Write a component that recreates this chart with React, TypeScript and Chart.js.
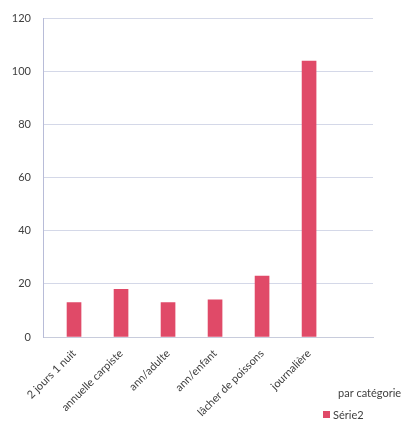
import React, { useEffect, useRef } from "react";
import { Chart, registerables } from "chart.js";

Chart.register(...registerables);

const categories = [
  "2 jours 1 nuit",
  "annuelle carpiste",
  "ann/adulte",
  "ann/enfant",
  "lâcher de poissons",
  "journalière",
];
const values = [13, 18, 13, 14, 23, 104];
const yMin = 0;
const yMax = 120;
const yStep = 20;
const seriesLabel = "Série2";
const legendTitle = "par catégorie";

const BAR_COLOR = "#e04a68";
const TEXT_COLOR = "#404040";
const FONT = "Lato";

const legendPlugin = {
  id: "customLegend",
  afterDraw(chart: any) {
    const ctx = chart.ctx;
    ctx.save();
    ctx.font = `11px ${FONT}`;
    ctx.fillStyle = TEXT_COLOR;
    ctx.textAlign = "left";
    ctx.textBaseline = "middle";
    ctx.fillText(legendTitle, 338, 393);
    ctx.fillStyle = chart.data.datasets[0].backgroundColor;
    ctx.fillRect(323, 411, 7, 7);
    ctx.fillStyle = TEXT_COLOR;
    ctx.fillText(chart.data.datasets[0].label, 333, 415);
    ctx.restore();
  },
};

export default function App() {
  const ref = useRef<HTMLCanvasElement>(null);
  useEffect(() => {
    if (!ref.current) return;
    const chart = new Chart(ref.current, {
      type: "bar",
      data: {
        datasets: [
          {
            label: seriesLabel,
            data: values.map((v, i) => ({ x: i, y: v })),
            backgroundColor: BAR_COLOR,
            barThickness: 14,
          },
        ],
      },
      options: {
        responsive: false,
        animation: false,
        layout: { padding: { top: 12, right: 28, left: 0, bottom: 0 } },
        plugins: { legend: { display: false }, tooltip: { enabled: false } },
        scales: {
          x: {
            type: "linear",
            offset: false,
            min: -0.66,
            max: 6.36,
            afterBuildTicks(scale: any) {
              scale.ticks = categories.map((_, i) => ({ value: i }));
            },
            afterFit(scale: any) {
              scale.height = 88;
            },
            grid: { display: false },
            border: { color: "#c8ccdc" },
            ticks: {
              autoSkip: false,
              minRotation: 45,
              maxRotation: 45,
              padding: 2,
              color: TEXT_COLOR,
              font: { family: FONT, size: 11 },
              callback: (v: any) => categories[v] ?? "",
            },
          },
          y: {
            min: yMin,
            max: yMax,
            afterFit(scale: any) {
              scale.width = 43;
            },
            grid: { color: "#d4d8e8", drawTicks: false },
            border: { color: "#b8bcd8" },
            ticks: {
              stepSize: yStep,
              padding: 12,
              color: TEXT_COLOR,
              font: { family: FONT, size: 11 },
            },
          },
        },
      },
      plugins: [legendPlugin],
    });
    return () => chart.destroy();
  }, []);
  return (
    <div style={{ position: "fixed", left: 0, top: 0, width: 401, height: 425, background: "#fff" }}>
      <canvas ref={ref} width={401} height={425} />
    </div>
  );
}
